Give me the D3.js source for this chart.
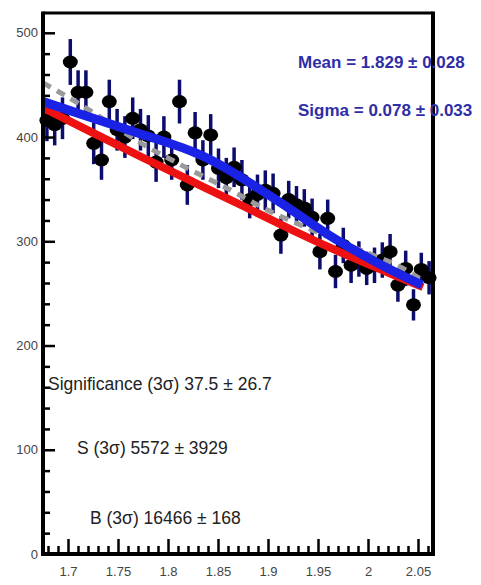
<!DOCTYPE html>
<html>
<head>
<meta charset="utf-8">
<script src="https://cdn.jsdelivr.net/npm/d3@7"></script>
<style>
  html, body { margin: 0; padding: 0; background: #fff; }
  svg { display: block; }
  text { font-family: "Liberation Sans", Arial, Helvetica, sans-serif; }
</style>
</head>
<body>
<svg id="chart" width="481" height="585"></svg>
<script>
// ---- data ----
const massBins = [1.6789,1.6867,1.6945,1.7023,1.7101,1.7179,1.7257,1.7335,1.7413,1.7491,
                  1.7569,1.7647,1.7725,1.7803,1.7881,1.7959,1.8037,1.8115,1.8193,1.8271,
                  1.8349,1.8427,1.8505,1.8583,1.8661,1.8739,1.8817,1.8895,1.8973,1.9051,
                  1.9129,1.9207,1.9285,1.9363,1.9441,1.9519,1.9597,1.9675,1.9753,1.9831,
                  1.9909,1.9987,2.0065,2.0143,2.0221,2.0299,2.0377,2.0455,2.0533,2.0611];
const counts = [416,412,418,472,443,443,394,378,434,407,
                400,418,407,401,376,400,378,434,354,404,
                378,402,370,361,371,359,340,345,349,346,
                306,340,335,332,323,290,322,271,296,277,
                283,274,277,282,290,258,274,239,273,265];
const errors = [20,20,20,22,21,21,20,19,21,20,
                20,20,20,20,19,20,19,21,19,20,
                19,20,19,19,19,19,18,19,19,19,
                18,18,18,18,18,17,18,16,17,17,
                17,16,17,17,17,16,17,15,16,16];

const bkgX = [1.675,1.725,1.775,1.825,1.875,1.925,1.975,2.025,2.055];
const bkgY = [428,404,380,357,334,310,288,268,256];

const totalX = [1.675,1.725,1.775,1.829,1.862,1.890,1.924,1.957,1.985,2.019,2.054];
const totalY = [434,418,402,386,368,351,330,308,292,274,258];

const altX = [1.675,1.719,1.772,1.790,1.829,1.849,1.867,1.889,1.909,1.995,2.032,2.055];
const altY = [452,428,394,385,365,356,347,335,325,290,277,262];

const xMajor = [1.7,1.75,1.8,1.85,1.9,1.95,2.0,2.05];
const xLabels = ["1.7","1.75","1.8","1.85","1.9","1.95","2","2.05"];
const yMajor = [0,100,200,300,400,500];

const statTop = ["Mean = 1.829 \u00b1 0.028", "Sigma = 0.078 \u00b1 0.033"];
const statBottom = ["Significance (3\u03c3) 37.5 \u00b1 26.7", "S (3\u03c3) 5572 \u00b1 3929", "B (3\u03c3) 16466 \u00b1 168"];

// ---- layout ----
const L = 43, R = 433, T = 13, B = 554;
const svg = d3.select("#chart");
const x = d3.scaleLinear().domain([1.675, 2.065]).range([L, R]);
const y = d3.scaleLinear().domain([0, 519]).range([B, T]);

const xMinor = d3.range(168, 207).map(d => d / 100).filter(v => !xMajor.some(m => Math.abs(m - v) < 1e-6));
const yMinor = d3.range(20, 520, 20).filter(v => v % 100 !== 0);

// data points
const pts = massBins.map((m, i) => ({m, c: counts[i], e: errors[i]}));
const gP = svg.append("g");
gP.selectAll("line.err").data(pts).join("line")
  .attr("x1", d => x(d.m)).attr("x2", d => x(d.m))
  .attr("y1", d => y(d.c - d.e)).attr("y2", d => y(d.c + d.e))
  .attr("stroke", "#0c0c6e").attr("stroke-width", 3.5);
gP.selectAll("ellipse").data(pts).join("ellipse")
  .attr("cx", d => x(d.m)).attr("cy", d => y(d.c))
  .attr("rx", 7.5).attr("ry", 6.5).attr("fill", "#000");

// curves
const line = d3.line().x(d => x(d[0])).y(d => y(d[1])).curve(d3.curveBasis);
svg.append("path").datum(d3.zip(altX, altY)).attr("d", line)
  .attr("fill", "none").attr("stroke", "#9a9a9a").attr("stroke-width", 5).attr("stroke-dasharray", "9,7");
svg.append("path").datum(d3.zip(bkgX, bkgY)).attr("d", line)
  .attr("fill", "none").attr("stroke", "#ee1111").attr("stroke-width", 8);
svg.append("path").datum(d3.zip(totalX, totalY)).attr("d", line)
  .attr("fill", "none").attr("stroke", "#1a22e6").attr("stroke-width", 9);

// axes
svg.append("g").attr("transform", `translate(${L},0)`)
  .call(d3.axisLeft(y).tickValues(yMajor).tickSizeInner(-12).tickSizeOuter(0).tickPadding(5));
svg.append("g").attr("transform", `translate(${L},0)`)
  .call(d3.axisLeft(y).tickValues(yMinor).tickSizeInner(-7).tickSizeOuter(0).tickFormat(""));
svg.append("g").attr("transform", `translate(0,${B})`)
  .call(d3.axisBottom(x).tickValues(xMajor).tickSizeInner(-15).tickSizeOuter(0).tickPadding(13)
    .tickFormat((d, i) => xLabels[i]));
svg.append("g").attr("transform", `translate(0,${B})`)
  .call(d3.axisBottom(x).tickValues(xMinor).tickSizeInner(-8).tickSizeOuter(0).tickFormat(""));
svg.selectAll(".domain").remove();
svg.selectAll(".tick line").attr("stroke", "#000").attr("stroke-width", 2.5);
svg.selectAll(".tick text").attr("fill", "#444").style("font-size", "13px")
  .style("font-family", "'Liberation Sans', Arial, sans-serif");

// frame
svg.append("line").attr("x1", L).attr("x2", R).attr("y1", T).attr("y2", T).attr("stroke", "#000").attr("stroke-width", 3);
svg.append("line").attr("x1", R).attr("x2", R).attr("y1", T - 1.5).attr("y2", B + 2).attr("stroke", "#000").attr("stroke-width", 4);
svg.append("line").attr("x1", L).attr("x2", L).attr("y1", T - 1.5).attr("y2", B + 2).attr("stroke", "#000").attr("stroke-width", 4);
svg.append("line").attr("x1", L - 2).attr("x2", R + 2).attr("y1", B).attr("y2", B).attr("stroke", "#000").attr("stroke-width", 4);

// stats text
svg.selectAll("text.top").data(statTop).join("text").attr("class", "top")
  .attr("x", 298).attr("y", (d, i) => 68 + i * 48)
  .attr("fill", "#2e2ea6").style("font-size", "17px").style("font-weight", "bold").text(d => d);
const bx = [48, 77, 90], by = [390, 454, 524];
svg.selectAll("text.bot").data(statBottom).join("text").attr("class", "bot")
  .attr("x", (d, i) => bx[i]).attr("y", (d, i) => by[i])
  .attr("fill", "#222").style("font-size", "17.5px").text(d => d);
</script>
</body>
</html>
